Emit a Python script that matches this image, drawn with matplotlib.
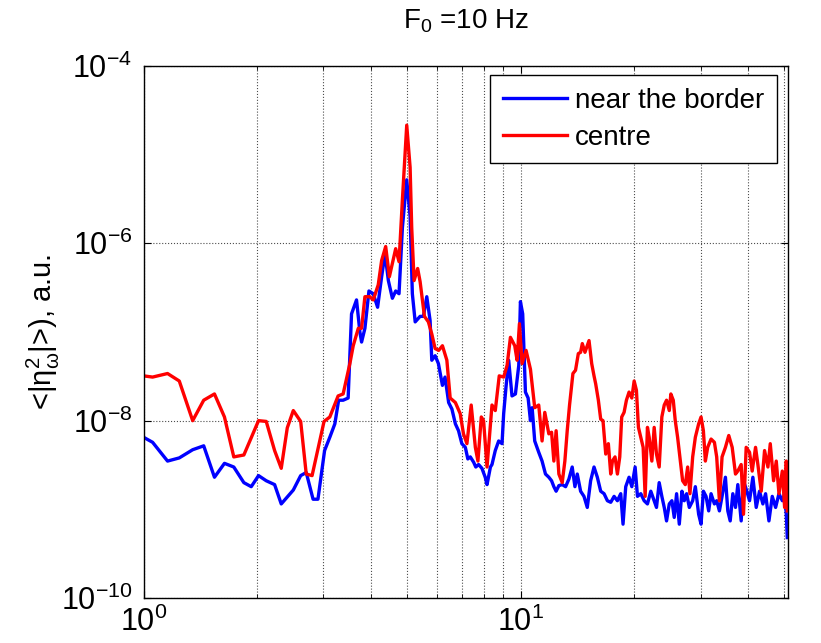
import math
import matplotlib
matplotlib.use("Agg")
import matplotlib.pyplot as plt
from matplotlib.ticker import LogLocator, FuncFormatter, NullFormatter, FixedLocator

plt.rcParams["font.family"] = ["Liberation Sans", "DejaVu Sans"]
plt.rcParams["mathtext.fontset"] = "custom"
plt.rcParams["mathtext.rm"] = "Liberation Sans"
plt.rcParams["mathtext.it"] = "Liberation Sans:italic"
plt.rcParams["mathtext.default"] = "regular"

# spectrum near the border (blue)
blue_freq = [1.0, 1.057, 1.158, 1.244, 1.35, 1.444, 1.542, 1.639, 1.735, 1.845,
             1.93, 2.018, 2.115, 2.226, 2.318, 2.495, 2.61, 2.70, 2.815, 2.90,
             3.02, 3.118, 3.215, 3.29, 3.382, 3.487, 3.56, 3.67, 3.746, 3.785,
             3.863, 3.959, 4.064, 4.174, 4.278, 4.367, 4.457, 4.568, 4.661, 4.757,
             4.856, 4.986, 5.09, 5.16, 5.25, 5.41, 5.52, 5.635, 5.75, 5.81,
             5.93, 6.05, 6.20, 6.30, 6.44, 6.57, 6.71, 6.84, 6.98, 7.13,
             7.24, 7.35, 7.50, 7.60, 7.73, 7.89, 8.05, 8.14, 8.31, 8.39,
             8.56, 8.74, 8.92, 9.01, 9.14, 9.29, 9.48, 9.68, 9.88, 9.98,
             10.12, 10.29, 10.46, 10.61, 10.72, 10.89, 11.16, 11.39, 11.63, 11.87,
             12.07, 12.24, 12.41, 12.62, 12.88, 13.15, 13.42, 13.69, 13.92, 14.12,
             14.41, 14.71, 15.01, 15.32, 15.64, 15.96, 16.29, 16.63, 16.97, 17.32,
             17.68, 18.04, 18.41, 18.67, 18.98, 19.37, 19.70, 20.10, 20.39, 20.81,
             21.24, 21.67, 22.12, 22.58, 22.90, 23.28, 23.66, 24.01, 24.35, 24.76,
             25.16, 25.52, 25.89, 26.32, 26.75, 27.13, 27.53, 27.98, 28.56, 29.03,
             29.62, 30.06, 30.49, 30.99, 31.49, 31.95, 32.61, 33.07, 33.62, 34.17,
             34.88, 35.39, 35.91, 36.49, 37.09, 37.62, 38.40, 38.95, 39.75, 40.41,
             41.24, 42.09, 42.95, 43.84, 44.57, 45.49, 46.42, 47.38, 48.36, 49.36,
             50.06, 50.57, 50.88]
blue_psd = [6.5e-9, 5.7e-9, 3.5e-9, 3.8e-9, 4.7e-9, 5.2e-9, 2.3e-9, 3.3e-9, 3.0e-9, 2.0e-9,
            1.8e-9, 2.4e-9, 2.1e-9, 1.9e-9, 1.15e-9, 1.65e-9, 2.4e-9, 2.6e-9, 1.3e-9, 1.3e-9,
            4.6e-9, 6.5e-9, 9.2e-9, 1.7e-8, 1.7e-8, 1.8e-8, 1.6e-7, 2.3e-7, 1.0e-7, 7.7e-8,
            1.1e-7, 2.9e-7, 2.7e-7, 1.9e-7, 4.2e-7, 7.7e-7, 3.8e-7, 2.4e-7, 2.9e-7, 2.7e-7,
            1.5e-6, 5.2e-6, 2.0e-6, 2.7e-7, 1.3e-7, 1.5e-7, 1.5e-7, 2.5e-7, 1.35e-7, 4.8e-8,
            5.4e-8, 4.4e-8, 2.5e-8, 3.1e-8, 1.6e-8, 1.35e-8, 9.2e-9, 7.7e-9, 5.5e-9, 5.0e-9,
            3.7e-9, 3.9e-9, 3.4e-9, 3.0e-9, 3.2e-9, 2.9e-9, 2.3e-9, 1.9e-9, 3.0e-9, 3.2e-9,
            4.6e-9, 5.9e-9, 5.5e-9, 1.2e-8, 2.4e-8, 4.8e-8, 1.9e-8, 2.0e-8, 4.2e-8, 2.2e-7,
            1.6e-7, 2.1e-8, 1.8e-8, 1.0e-8, 1.4e-8, 5.9e-9, 4.4e-9, 3.5e-9, 2.5e-9, 2.3e-9,
            2.1e-9, 1.8e-9, 1.6e-9, 1.85e-9, 1.9e-9, 1.8e-9, 2.2e-9, 3.0e-9, 1.8e-9, 2.5e-9,
            1.6e-9, 1.4e-9, 1.05e-9, 2.1e-9, 3.0e-9, 2.3e-9, 1.6e-9, 1.5e-9, 1.25e-9, 1.2e-9,
            1.4e-9, 1.25e-9, 1.5e-9, 6.8e-10, 1.8e-9, 2.3e-9, 1.8e-9, 3.0e-9, 1.4e-9, 1.5e-9,
            1.25e-9, 1.15e-9, 1.6e-9, 1.25e-9, 1.05e-9, 2.0e-9, 1.4e-9, 1.05e-9, 7.4e-10, 1.15e-9,
            1.25e-9, 8.1e-10, 1.5e-9, 6.8e-10, 1.6e-9, 1.25e-9, 1.5e-9, 1.05e-9, 1.25e-9, 1.8e-9,
            8.8e-10, 6.8e-10, 1.6e-9, 1.4e-9, 9.6e-10, 1.5e-9, 1.15e-9, 1.25e-9, 9.6e-10, 1.4e-9,
            2.3e-9, 9.6e-10, 7.4e-10, 1.5e-9, 1.05e-9, 1.9e-9, 7.4e-10, 2.1e-9, 1.6e-9, 1.25e-9,
            2.3e-9, 1.05e-9, 1.6e-9, 1.15e-9, 1.5e-9, 7.4e-10, 1.4e-9, 1.05e-9, 1.5e-9, 1.25e-9,
            1.5e-9, 8.8e-10, 4.8e-10]

# spectrum in the centre (red)
red_freq = [1.0, 1.057, 1.158, 1.244, 1.35, 1.444, 1.542, 1.639, 1.735, 1.845,
            2.018, 2.115, 2.226, 2.318, 2.405, 2.495, 2.61, 2.70, 2.798, 3.01,
            3.118, 3.28, 3.382, 3.524, 3.597, 3.71, 3.785, 3.863, 3.98, 4.064,
            4.19, 4.278, 4.385, 4.485, 4.661, 4.757, 4.856, 4.986, 5.09, 5.14,
            5.215, 5.33, 5.41, 5.556, 5.69, 5.81, 5.93, 6.06, 6.20, 6.37,
            6.50, 6.71, 6.91, 7.05, 7.20, 7.39, 7.58, 7.70, 7.86, 7.97,
            8.14, 8.39, 8.56, 8.77, 9.01, 9.20, 9.39, 9.64, 9.78, 9.92,
            10.08, 10.33, 10.61, 10.89, 11.16, 11.39, 11.58, 11.87, 12.07, 12.24,
            12.41, 12.62, 12.88, 13.09, 13.28, 13.47, 13.75, 13.97, 14.21, 14.41,
            14.56, 14.80, 15.01, 15.17, 15.42, 15.64, 15.80, 16.06, 16.29, 16.52,
            16.80, 17.07, 17.32, 17.50, 17.78, 18.04, 18.30, 18.52, 18.79, 19.06,
            19.37, 19.70, 19.98, 20.26, 20.51, 20.81, 21.11, 21.37, 21.67, 21.90,
            22.26, 22.58, 22.90, 23.28, 23.66, 24.01, 24.35, 24.76, 25.00, 25.37,
            25.68, 26.05, 26.42, 26.86, 27.30, 27.70, 28.09, 28.56, 29.03, 29.62,
            30.06, 30.49, 30.86, 31.30, 31.95, 32.61, 33.07, 33.62, 34.17, 34.88,
            35.60, 36.35, 37.09, 37.62, 38.40, 38.95, 39.59, 40.41, 41.07, 41.92,
            42.52, 43.40, 44.29, 45.21, 45.86, 46.80, 47.57, 48.36, 49.36, 50.06,
            50.57, 50.88]
red_psd = [3.2e-8, 3.1e-8, 3.4e-8, 2.8e-8, 1.0e-8, 1.7e-8, 2.0e-8, 1.1e-8, 3.9e-9, 4.1e-9,
           1.0e-8, 9.8e-9, 4.6e-9, 2.9e-9, 8.3e-9, 1.3e-8, 9.8e-9, 2.5e-9, 2.4e-9, 9.8e-9,
           1.1e-8, 1.9e-8, 2.0e-8, 4.4e-8, 7.0e-8, 1.1e-7, 1.1e-7, 2.5e-7, 2.5e-7, 2.3e-7,
           3.4e-7, 6.4e-7, 9.2e-7, 4.2e-7, 8.7e-7, 6.2e-7, 3.1e-6, 2.15e-5, 7.2e-6, 1.5e-6,
           3.8e-7, 5.2e-7, 3.7e-7, 1.5e-7, 1.3e-7, 9.5e-8, 6.5e-8, 6.2e-8, 7.0e-8, 4.8e-8,
           1.8e-8, 1.6e-8, 1.2e-8, 7.1e-9, 5.5e-9, 1.5e-8, 5.0e-9, 3.5e-9, 1.1e-8, 1.0e-8,
           3.0e-9, 1.5e-8, 1.3e-8, 3.2e-8, 3.1e-8, 4.2e-8, 8.7e-8, 7.0e-8, 4.8e-8, 1.24e-7,
           4.4e-8, 6.2e-8, 3.8e-8, 1.4e-8, 1.5e-8, 5.9e-9, 1.24e-8, 7.1e-9, 7.4e-9, 3.5e-9,
           7.7e-9, 2.5e-9, 2.0e-9, 3.5e-9, 7.7e-9, 1.5e-8, 3.4e-8, 3.7e-8, 5.7e-8, 5.9e-8,
           7.4e-8, 5.9e-8, 7.0e-8, 8.0e-8, 4.4e-8, 3.2e-8, 2.6e-8, 1.7e-8, 1.04e-8, 1.0e-8,
           4.2e-9, 5.5e-9, 2.5e-9, 3.5e-9, 3.9e-9, 2.5e-9, 3.9e-9, 1.1e-8, 1.24e-8, 1.7e-8,
           2.1e-8, 1.8e-8, 2.8e-8, 2.2e-8, 8.4e-9, 6.5e-9, 5.0e-9, 1.4e-9, 8.4e-9, 6.5e-9,
           3.5e-9, 8.4e-9, 4.2e-9, 3.0e-9, 1.1e-8, 1.5e-8, 1.7e-8, 1.3e-8, 2.0e-8, 1.7e-8,
           1.0e-8, 6.5e-9, 3.9e-9, 2.1e-9, 1.9e-9, 3.0e-9, 1.5e-9, 3.9e-9, 6.5e-9, 9.2e-9,
           1.1e-8, 7.7e-9, 3.5e-9, 5.0e-9, 6.2e-9, 5.7e-9, 3.9e-9, 1.25e-9, 3.9e-9, 5.0e-9,
           6.8e-9, 5.0e-9, 2.5e-9, 2.7e-9, 3.2e-9, 8.8e-10, 5.0e-9, 4.4e-9, 2.7e-9, 5.0e-9,
           3.2e-9, 1.6e-9, 4.6e-9, 3.0e-9, 5.5e-9, 2.1e-9, 3.5e-9, 1.5e-9, 2.7e-9, 1.05e-9,
           3.5e-9, 9.6e-10]

series_labels = ["near the border", "centre"]
y_ticks = [1e-10, 1e-8, 1e-6, 1e-4]


def pow10_label(v, pos):
    return r"$10^{%d}$" % round(math.log10(v))


fig = plt.figure(figsize=(8.21, 6.43), dpi=100)
ax = fig.add_axes([0.1748, 0.070, 0.7846, 0.8274])

ax.plot(blue_freq, blue_psd, color="#0000ff", linewidth=2.4, label=series_labels[0])
ax.plot(red_freq, red_psd, color="#ff0000", linewidth=2.4, label=series_labels[1])

ax.set_xscale("log")
ax.set_yscale("log")
ax.set_xlim(1, 51)
ax.set_ylim(1e-10, 1e-4)

# ticks, MATLAB style (inside, on all four sides)
ax.xaxis.set_major_locator(LogLocator(base=10))
ax.xaxis.set_minor_locator(LogLocator(base=10, subs=range(2, 10)))
ax.xaxis.set_minor_formatter(NullFormatter())
ax.yaxis.set_major_locator(FixedLocator(y_ticks))
ax.yaxis.set_minor_locator(FixedLocator([]))
ax.xaxis.set_major_formatter(FuncFormatter(pow10_label))
ax.yaxis.set_major_formatter(FuncFormatter(pow10_label))
ax.tick_params(which="both", direction="in", top=True, right=True, labelsize=22)
ax.tick_params(which="major", length=5, width=0.8)
ax.tick_params(which="minor", length=3, width=0.6)
ax.tick_params(axis="x", pad=6)
ax.tick_params(axis="y", pad=8)

# dotted grid
ax.grid(True, which="both", axis="x", linestyle=":", color="0.3", linewidth=0.8)
ax.grid(True, which="major", axis="y", linestyle=":", color="0.3", linewidth=0.8)
for s in ax.spines.values():
    s.set_linewidth(1.0)

ax.set_title(r"F$_0$ =10 Hz", fontsize=20, pad=27)
ax.set_ylabel(r"<|$\eta_{\omega}^{2}$|>), a.u.", fontsize=21)
ax.yaxis.set_label_coords(-0.127, 0.5)

leg = ax.legend(loc="upper right", bbox_to_anchor=(0.983, 0.983), borderaxespad=0,
                fontsize=20, handlelength=2.3, handletextpad=0.3, labelspacing=0.4,
                borderpad=0.45, fancybox=False, framealpha=1)
leg.get_frame().set_edgecolor("black")
leg.get_frame().set_linewidth(1.0)

fig.savefig("out.png", dpi=100)
